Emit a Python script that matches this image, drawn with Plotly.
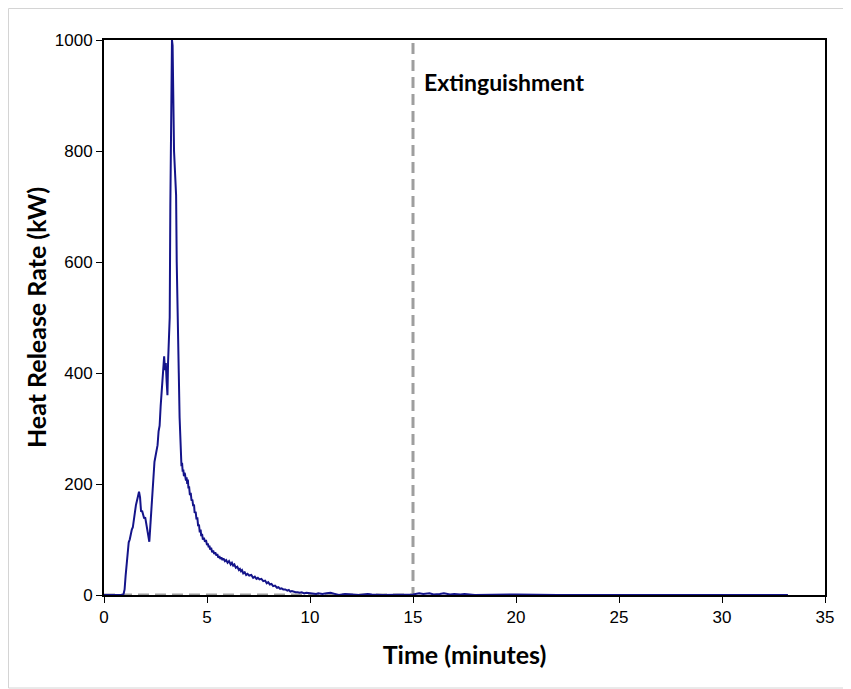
import plotly.graph_objects as go

# Heat release rate curve (time in minutes, HRR in kW)
time_min = [0.0, 0.90, 0.95, 1.00, 1.05, 1.10, 1.15, 1.20, 1.25, 1.30, 1.35, 1.40, 1.45,
            1.50, 1.55, 1.60, 1.65, 1.70, 1.75, 1.80, 1.85, 1.90, 1.95, 2.00, 2.05,
            2.10, 2.15, 2.20, 2.25, 2.30, 2.35, 2.40, 2.45, 2.50, 2.55, 2.60, 2.65,
            2.70, 2.75, 2.80, 2.85, 2.88, 2.92, 2.96, 3.00, 3.04, 3.08, 3.11, 3.15,
            3.19, 3.22, 3.26, 3.30, 3.33, 3.36, 3.40, 3.45, 3.50, 3.53, 3.56, 3.60,
            3.63, 3.67, 3.72, 3.76, 3.79, 3.82, 3.85, 3.88, 3.91, 3.93, 3.96, 3.98,
            4.01, 4.04, 4.07, 4.10, 4.13, 4.17, 4.21, 4.25, 4.29, 4.33, 4.37, 4.40,
            4.45, 4.49, 4.53, 4.57, 4.61, 4.65, 4.69, 4.72, 4.76, 4.80, 4.85, 4.90,
            4.95, 5.00, 5.04, 5.08, 5.12, 5.15, 5.20, 5.25, 5.30, 5.35, 5.40, 5.46,
            5.50, 5.55, 5.60, 5.65, 5.70, 5.75, 5.80, 5.87, 5.93, 6.00, 6.07, 6.15,
            6.21, 6.27, 6.33, 6.40, 6.47, 6.55, 6.60, 6.65, 6.70, 6.76, 6.83, 6.90,
            6.97, 7.05, 7.15, 7.24, 7.32, 7.40, 7.47, 7.55, 7.64, 7.73, 7.82, 7.90,
            7.97, 8.05, 8.13, 8.21, 8.30, 8.40, 8.47, 8.55, 8.62, 8.70, 8.80, 8.90,
            8.97, 9.05, 9.12, 9.18, 9.30, 9.40, 9.50, 9.60, 9.72, 9.83, 10.0, 10.1,
            10.3, 10.4, 10.6, 10.8, 11.0, 11.2, 11.4, 11.7, 12.0, 12.4, 12.8, 13.0,
            13.5, 14.0, 14.5, 15.0, 15.3, 15.5, 15.8, 16.0, 16.3, 16.5, 16.8, 17.0,
            17.3, 17.5, 18.0, 19.0, 20.0, 22.0, 25.0, 28.0, 30.0, 33.2]
hrr_kw = [0, 0, 2, 10, 35, 60, 78, 95, 100, 112, 118, 122, 138,
          150, 162, 170, 180, 186, 176, 150, 152, 145, 138, 140, 128,
          115, 100, 96, 125, 155, 190, 228, 240, 250, 262, 270, 295,
          305, 340, 370, 400, 425, 430, 405, 418, 385, 360, 420, 465,
          500, 700, 860, 1000, 990, 850, 800, 760, 720, 600, 515, 480,
          400, 320, 250, 232, 238, 222, 226, 214, 220, 218, 210, 206,
          212, 200, 208, 192, 196, 180, 184, 170, 172, 160, 163, 148,
          150, 136, 140, 124, 127, 113, 118, 106, 110, 100, 103, 96,
          99, 90, 93, 86, 89, 82, 85, 77, 80, 74, 77, 71,
          74, 67, 70, 65, 68, 63, 66, 61, 63, 58, 61, 55,
          58, 53, 55, 49, 51, 45, 47, 43, 45, 39, 41, 36,
          38, 35, 36, 31, 33, 29, 31, 28, 29, 25, 26, 21,
          23, 19, 20, 16, 17, 13, 14, 11, 12, 10, 10, 8,
          9, 6, 7, 6, 5, 5, 4, 5, 3, 4, 3, 3,
          2, 3, 2, 3, 4, 2, 0, 2, 1, 0, 2, 1,
          0, 0, 1, 1, 3, 2, 3, 1, 2, 3, 1, 2,
          1, 2, 0, 1, 1, 0, 0, 1, 0, 0]

# Extinguishment marker (dashed grey step line)
ext_time = [0, 15, 15]
ext_hrr = [0, 0, 1000]

x_ticks = [0, 5, 10, 15, 20, 25, 30, 35]
y_ticks = [0, 200, 400, 600, 800, 1000]

fig = go.Figure()
fig.add_trace(go.Scatter(x=ext_time, y=ext_hrr, mode="lines",
                         line=dict(color="#9e9e9e", width=3, dash="11px,6px"),
                         showlegend=False, hoverinfo="skip", cliponaxis=False))
fig.add_trace(go.Scatter(x=time_min, y=hrr_kw, mode="lines",
                         line=dict(color="#14148a", width=2),
                         showlegend=False))

fig.add_annotation(x=15.45, y=925, text="<b>Extinguishment</b>", showarrow=False,
                   xanchor="left", yanchor="middle",
                   font=dict(family="Lato, Open Sans, sans-serif", size=23, color="black"))

# light grey outer chart border (figure coords: plot area x 96..817, y 32..587)
fig.add_shape(type="rect", xref="paper", yref="paper",
              x0=(0.5 - 96) / 721, x1=(840 - 96) / 721,
              y0=(587 - 680) / 555, y1=(587 - 0.5) / 555,
              line=dict(color="#d4d4d4", width=1), layer="below")

axis_common = dict(showline=True, linecolor="black", linewidth=2, mirror=True,
                   ticks="outside", ticklen=6, tickcolor="black", tickwidth=1,
                   showgrid=False, zeroline=False, layer="below traces",
                   tickfont=dict(family="Liberation Sans, Arial, sans-serif", size=17, color="black"))

fig.update_layout(
    width=843, height=681,
    margin=dict(l=96, r=26, t=32, b=94),
    paper_bgcolor="white", plot_bgcolor="white",
    xaxis=dict(range=[0, 35], tickvals=x_ticks, ticktext=[str(v) for v in x_ticks],
               title=dict(text="<b>Time (minutes)</b>", standoff=20,
                          font=dict(family="Lato, Open Sans, sans-serif", size=25, color="black")),
               **axis_common),
    yaxis=dict(range=[0, 1000], tickvals=y_ticks, ticktext=[str(v) for v in y_ticks],
               title=dict(text="<b>Heat Release Rate (kW)</b>", standoff=1,
                          font=dict(family="Lato, Open Sans, sans-serif", size=25, color="black")),
               **axis_common),
)

fig.write_html("out.html")
